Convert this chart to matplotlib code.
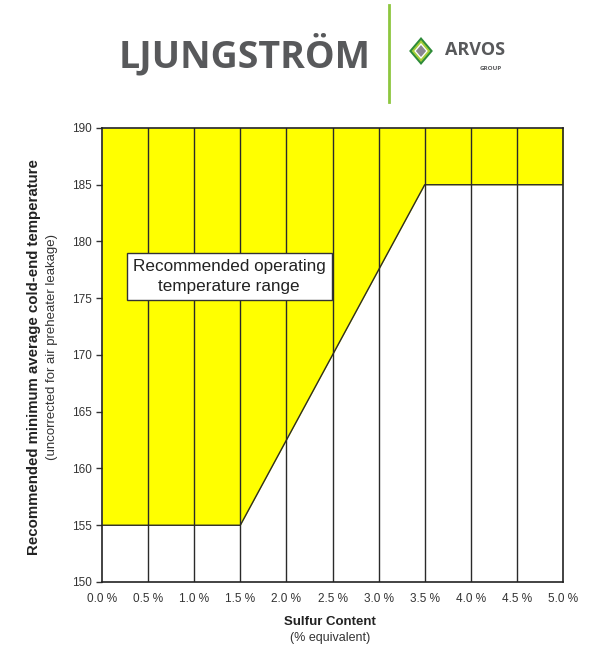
import matplotlib.pyplot as plt
from matplotlib.patches import Polygon
from matplotlib.lines import Line2D

plt.rcParams["font.family"] = ["Liberation Sans", "DejaVu Sans"]

# boundary of the recommended operating range (sulfur %, min temperature)
sulfur = [0.0, 1.5, 3.5, 5.0]
min_temp = [155, 155, 185, 185]
x_ticks = [0.0, 0.5, 1.0, 1.5, 2.0, 2.5, 3.0, 3.5, 4.0, 4.5, 5.0]
y_ticks = [150, 155, 160, 165, 170, 175, 180, 185, 190]

fig = plt.figure(figsize=(5.92, 6.47), dpi=100)
W, H = 592, 647
ax = fig.add_axes([102 / W, 1 - 582 / H, (563 - 102) / W, (582 - 128) / H])

ax.fill_between(sulfur, min_temp, 190, color="#FFFF00", linewidth=0, zorder=1)
for x in x_ticks[1:-1]:
    ax.axvline(x, color="#2a2a2a", linewidth=1.0, zorder=2)
ax.plot(sulfur, min_temp, color="#2a2a2a", linewidth=1.0, zorder=3)

ax.set_xlim(0, 5)
ax.set_ylim(150, 190)
ax.set_xticks(x_ticks)
ax.set_xticklabels([f"{v:.1f} %" for v in x_ticks])
ax.set_yticks(y_ticks)
ax.tick_params(axis="both", labelsize=8.5, colors="#333333", length=4, width=1)
ax.tick_params(axis="x", length=0, pad=8)
for s in ax.spines.values():
    s.set_color("#222222")
    s.set_linewidth(1.2)

ax.text(1.38, 176.9, "Recommended operating\ntemperature range", ha="center", va="center",
        fontsize=12.3, color="#222222", linespacing=1.4, zorder=5,
        bbox=dict(boxstyle="square,pad=0.35", facecolor="white", edgecolor="#333333", linewidth=1))

fig.text(34 / W, 1 - 357 / H, "Recommended minimum average cold-end temperature",
         rotation=90, ha="center", va="center", fontsize=10.8, fontweight="bold", color="#222222")
fig.text(52 / W, 1 - 347 / H, "(uncorrected for air preheater leakage)",
         rotation=90, ha="center", va="center", fontsize=9.5, color="#333333")
fig.text(330 / W, 1 - 622 / H, "Sulfur Content", ha="center", va="center",
         fontsize=9.5, fontweight="bold", color="#222222")
fig.text(330 / W, 1 - 638 / H, "(% equivalent)", ha="center", va="center",
         fontsize=9, color="#333333")

# header logo
fig.text(245 / W, 1 - 55 / H, "LJUNGSTRÖM", ha="center", va="center", fontsize=27,
         fontweight="bold", color="#58595B", family=["Open Sans", "DejaVu Sans"])
fig.add_artist(Line2D([389 / W, 389 / W], [1 - 5 / H, 1 - 102 / H], color="#8DC63F",
                      linewidth=2, transform=fig.transFigure))


def diamond(cx, cy, r, color):
    pts = [(cx / W, 1 - (cy - r) / H), ((cx + r * 0.85) / W, 1 - cy / H),
           (cx / W, 1 - (cy + r) / H), ((cx - r * 0.85) / W, 1 - cy / H)]
    fig.add_artist(Polygon(pts, closed=True, facecolor=color, edgecolor="none",
                           transform=fig.transFigure))


diamond(421, 51, 14, "#2E8B3A")
diamond(421, 51, 11, "#A6CE39")
diamond(421, 51, 8, "#FFFFFF")
diamond(421, 51, 6, "#8A8690")
fig.text(475 / W, 1 - 50 / H, "ARVOS", ha="center", va="center", fontsize=13,
         fontweight="bold", color="#58595B", family=["Open Sans", "DejaVu Sans"])
fig.text(491 / W, 1 - 68 / H, "GROUP", ha="center", va="center", fontsize=4.5,
         fontweight="bold", color="#58595B", family=["Open Sans", "DejaVu Sans"])

fig.savefig("out.png", dpi=100)
